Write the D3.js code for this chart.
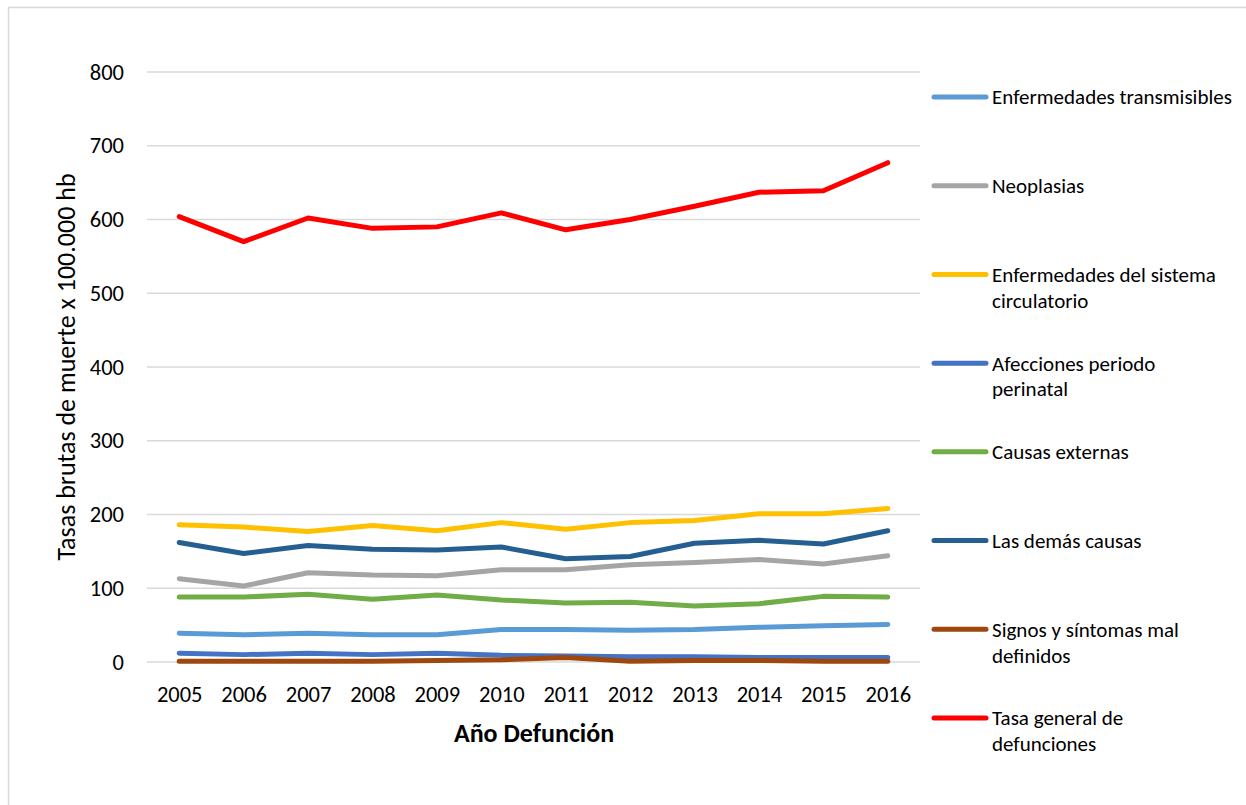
<!DOCTYPE html>
<html>
<head>
<meta charset="utf-8">
<script src="https://cdn.jsdelivr.net/npm/d3@7"></script>
<style>
  html, body { margin: 0; padding: 0; background: #fff; }
  svg { display: block; }
  text { font-family: Carlito, Lato, "Liberation Sans", sans-serif; fill: #000; }
</style>
</head>
<body>
<svg id="chart" width="1246" height="805"></svg>
<script>
// Años de defunción
const years = ["2005","2006","2007","2008","2009","2010","2011","2012","2013","2014","2015","2016"];

// Tasas brutas por grupo de causas (x 100.000 hb)
const transmisibles = [39, 37, 39, 37, 37, 44, 44, 43, 44, 47, 49, 51];
const neoplasias    = [113, 103, 121, 118, 117, 125, 125, 132, 135, 139, 133, 144];
const circulatorio  = [186, 183, 177, 185, 178, 189, 180, 189, 192, 201, 201, 208];
const perinatal     = [12, 10, 12, 10, 12, 9, 8, 7, 7, 6, 6, 6];
const externas      = [88, 88, 92, 85, 91, 84, 80, 81, 76, 79, 89, 88];
const demas         = [162, 147, 158, 153, 152, 156, 140, 143, 161, 165, 160, 178];
const signos        = [1, 1, 1, 1, 2, 3, 6, 1, 2, 2, 1, 1];
const tasaGeneral   = [604, 570, 602, 588, 590, 609, 586, 600, 618, 637, 639, 677];

const yTicks = [0, 100, 200, 300, 400, 500, 600, 700, 800];

const seriesNames = [
  ["Enfermedades transmisibles"],
  ["Neoplasias"],
  ["Enfermedades del sistema", "circulatorio"],
  ["Afecciones periodo", "perinatal"],
  ["Causas externas"],
  ["Las demás causas"],
  ["Signos y síntomas mal", "definidos"],
  ["Tasa general de", "defunciones"]
];
const seriesValues = [transmisibles, neoplasias, circulatorio, perinatal, externas, demas, signos, tasaGeneral];
const seriesColors = ["#5B9BD5", "#A5A5A5", "#FFC000", "#4472C4", "#70AD47", "#255E91", "#9E480E", "#FF0000"];

const series = seriesNames.map((name, i) => ({
  name, color: seriesColors[i],
  values: seriesValues[i].map((v, j) => ({ year: years[j], v }))
}));

const svg = d3.select("#chart");

// marco del gráfico
svg.append("rect")
  .attr("x", 8.5).attr("y", 7.5)
  .attr("width", 1250).attr("height", 820)
  .attr("fill", "none").attr("stroke", "#d9d9d9").attr("stroke-width", 1.5);

const plot = { left: 147, right: 920, top: 72, bottom: 662 };

const x = d3.scalePoint().domain(years).range([plot.left, plot.right]).padding(0.5);
const y = d3.scaleLinear().domain([0, 800]).range([plot.bottom, plot.top]);

// líneas de cuadrícula
svg.append("g")
  .selectAll("line")
  .data(yTicks)
  .join("line")
  .attr("x1", plot.left).attr("x2", plot.right)
  .attr("y1", d => y(d)).attr("y2", d => y(d))
  .attr("stroke", "#d9d9d9").attr("stroke-width", 1.5);

// eje Y
const yAxis = svg.append("g")
  .attr("transform", `translate(${plot.left},0)`)
  .call(d3.axisLeft(y).tickValues(yTicks).tickSize(0).tickPadding(23));
yAxis.select(".domain").remove();
yAxis.selectAll("text")
  .style("font-size", "22.5px");

// eje X
const xAxis = svg.append("g")
  .attr("transform", `translate(0,${plot.bottom})`)
  .call(d3.axisBottom(x).tickSize(0).tickPadding(24));
xAxis.select(".domain").remove();
xAxis.selectAll("text")
  .style("font-size", "22.5px");

// títulos de ejes
svg.append("text")
  .attr("x", 534).attr("y", 742)
  .attr("text-anchor", "middle")
  .style("font-size", "26px").style("font-weight", "bold")
  .text("Año Defunción");

svg.append("text")
  .attr("transform", "translate(75,367) rotate(-90)")
  .attr("text-anchor", "middle")
  .style("font-size", "26px")
  .text("Tasas brutas de muerte x 100.000 hb");

// series
const line = d3.line().x(d => x(d.year)).y(d => y(d.v));
svg.append("g")
  .selectAll("path")
  .data(series)
  .join("path")
  .attr("d", d => line(d.values))
  .attr("fill", "none")
  .attr("stroke", d => d.color)
  .attr("stroke-width", 5)
  .attr("stroke-linejoin", "round")
  .attr("stroke-linecap", "round");

// leyenda
const legend = svg.append("g");
const legendY = d3.scaleLinear().domain([0, 7]).range([97, 718]);
const entries = legend.selectAll("g")
  .data(series)
  .join("g")
  .attr("transform", (d, i) => `translate(0,${legendY(i)})`);
entries.append("line")
  .attr("x1", 934).attr("x2", 986)
  .attr("y1", 0).attr("y2", 0)
  .attr("stroke", d => d.color)
  .attr("stroke-width", 5)
  .attr("stroke-linecap", "round");
entries.append("text")
  .style("font-size", "21px")
  .selectAll("tspan")
  .data(d => d.name)
  .join("tspan")
  .attr("x", 992)
  .attr("y", (d, i) => i * 26)
  .attr("dy", "0.35em")
  .text(d => d);
</script>
</body>
</html>
